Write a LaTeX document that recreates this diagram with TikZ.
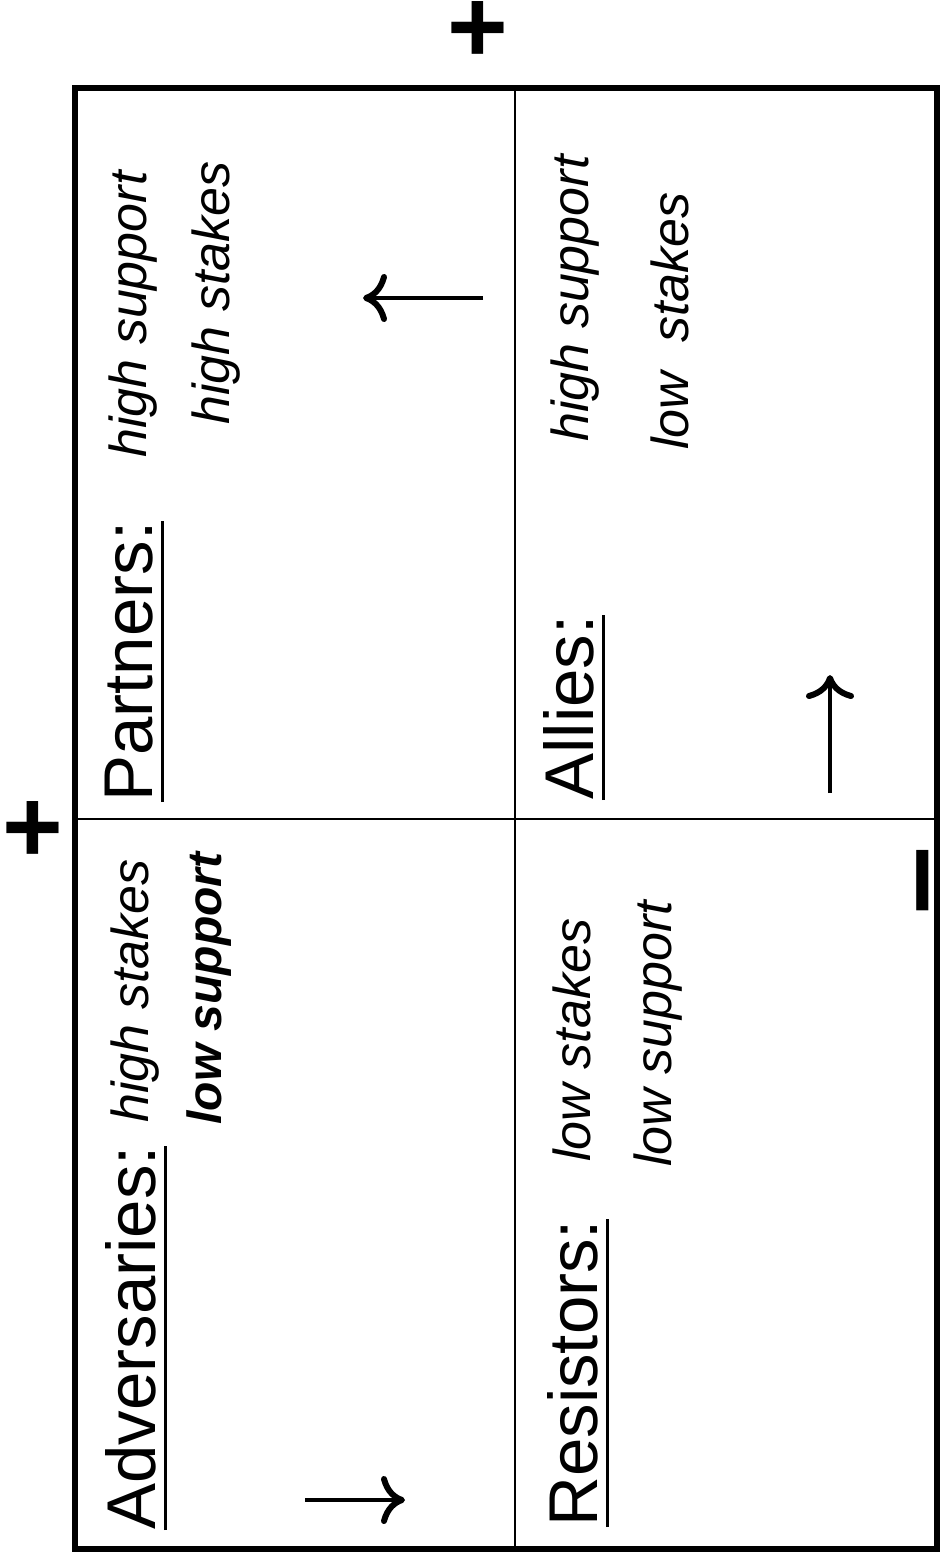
\documentclass[tikz,border=0pt]{standalone}
\usepackage{fontspec}
\setmainfont{Liberation Sans}
\usetikzlibrary{arrows.meta}
\usetikzlibrary{calc}

\tikzset{
    grouptitle/.style={rotate=90, anchor=base west, inner sep=0pt, font=\fontsize{34.5}{40}\selectfont},
    note/.style={rotate=90, anchor=base west, inner sep=0pt, font=\fontsize{26}{30}\selectfont\itshape},
    boldnote/.style={note, font=\fontsize{24}{28}\selectfont\bfseries\itshape},
    uline/.style={line width=1.5pt},
    moveline/.style={line width=2pt, -{To[length=12pt,width=24pt,line width=3pt]}},
    sign/.style={inner sep=0pt, font=\fontsize{52}{60}\selectfont\bfseries},
}

\begin{document}
\begin{tikzpicture}[x=0.5pt, y=-0.5pt]
    \useasboundingbox (0,0) rectangle (939,1554);

    % grid
    \draw[line width=3pt] (75,88) rectangle (937,1549);
    \draw[line width=1.3pt] (515,88) -- (515,1549);
    \draw[line width=1.3pt] (75,819) -- (937,819);

    % axis signs
    \node[sign] (plustop) at (478,29) {\smash{\raisebox{-0.32em}{+}}};
    \node[sign] (plusleft) at (33,829) {\smash{\raisebox{-0.32em}{+}}};
    \node[sign, rotate=90, font=\fontsize{61}{70}\selectfont\bfseries] (minus) at (924,881) {\smash{\raisebox{-0.26em}{–}}};

    % quadrant titles
    \node[grouptitle] (adv) at (155,1530) {Adversaries:};
    \node[grouptitle] (par) at (152,802) {Partners:};
    \node[grouptitle] (res) at (597,1527) {Resistors:};
    \node[grouptitle] (all) at (593,800) {Allies:};
    \foreach \q in {adv,par,res,all}
        \draw[uline] ([xshift=5pt]\q.base west) -- ([xshift=5pt]\q.base east);

    % quadrant notes
    \node[note] (advstakes) at (148,1123) {high stakes};
    \node[boldnote] (advsupport) at (221,1125) {low support};
    \node[note] (parsupport) at (146,458) {high support};
    \node[note] (parstakes) at (229,425) {high stakes};
    \node[note] (resstakes) at (590,1162) {low stakes};
    \node[note] (ressupport) at (671,1167) {low support};
    \node[note] (allsupport) at (588,442) {high support};
    \node[note] (allstakes) at (688,450) {low\ \ stakes};

    % movement arrows
    \coordinate (advfrom) at (305,1500);
    \coordinate (advto) at (405,1500);
    \coordinate (parfrom) at (483,298);
    \coordinate (parto) at (363,298);
    \coordinate (allfrom) at (830,793);
    \coordinate (allto) at (830,675);
    \draw[moveline] (advfrom) -- (advto);
    \draw[moveline] (parfrom) -- (parto);
    \draw[moveline] (allfrom) -- (allto);
\end{tikzpicture}
\end{document}
